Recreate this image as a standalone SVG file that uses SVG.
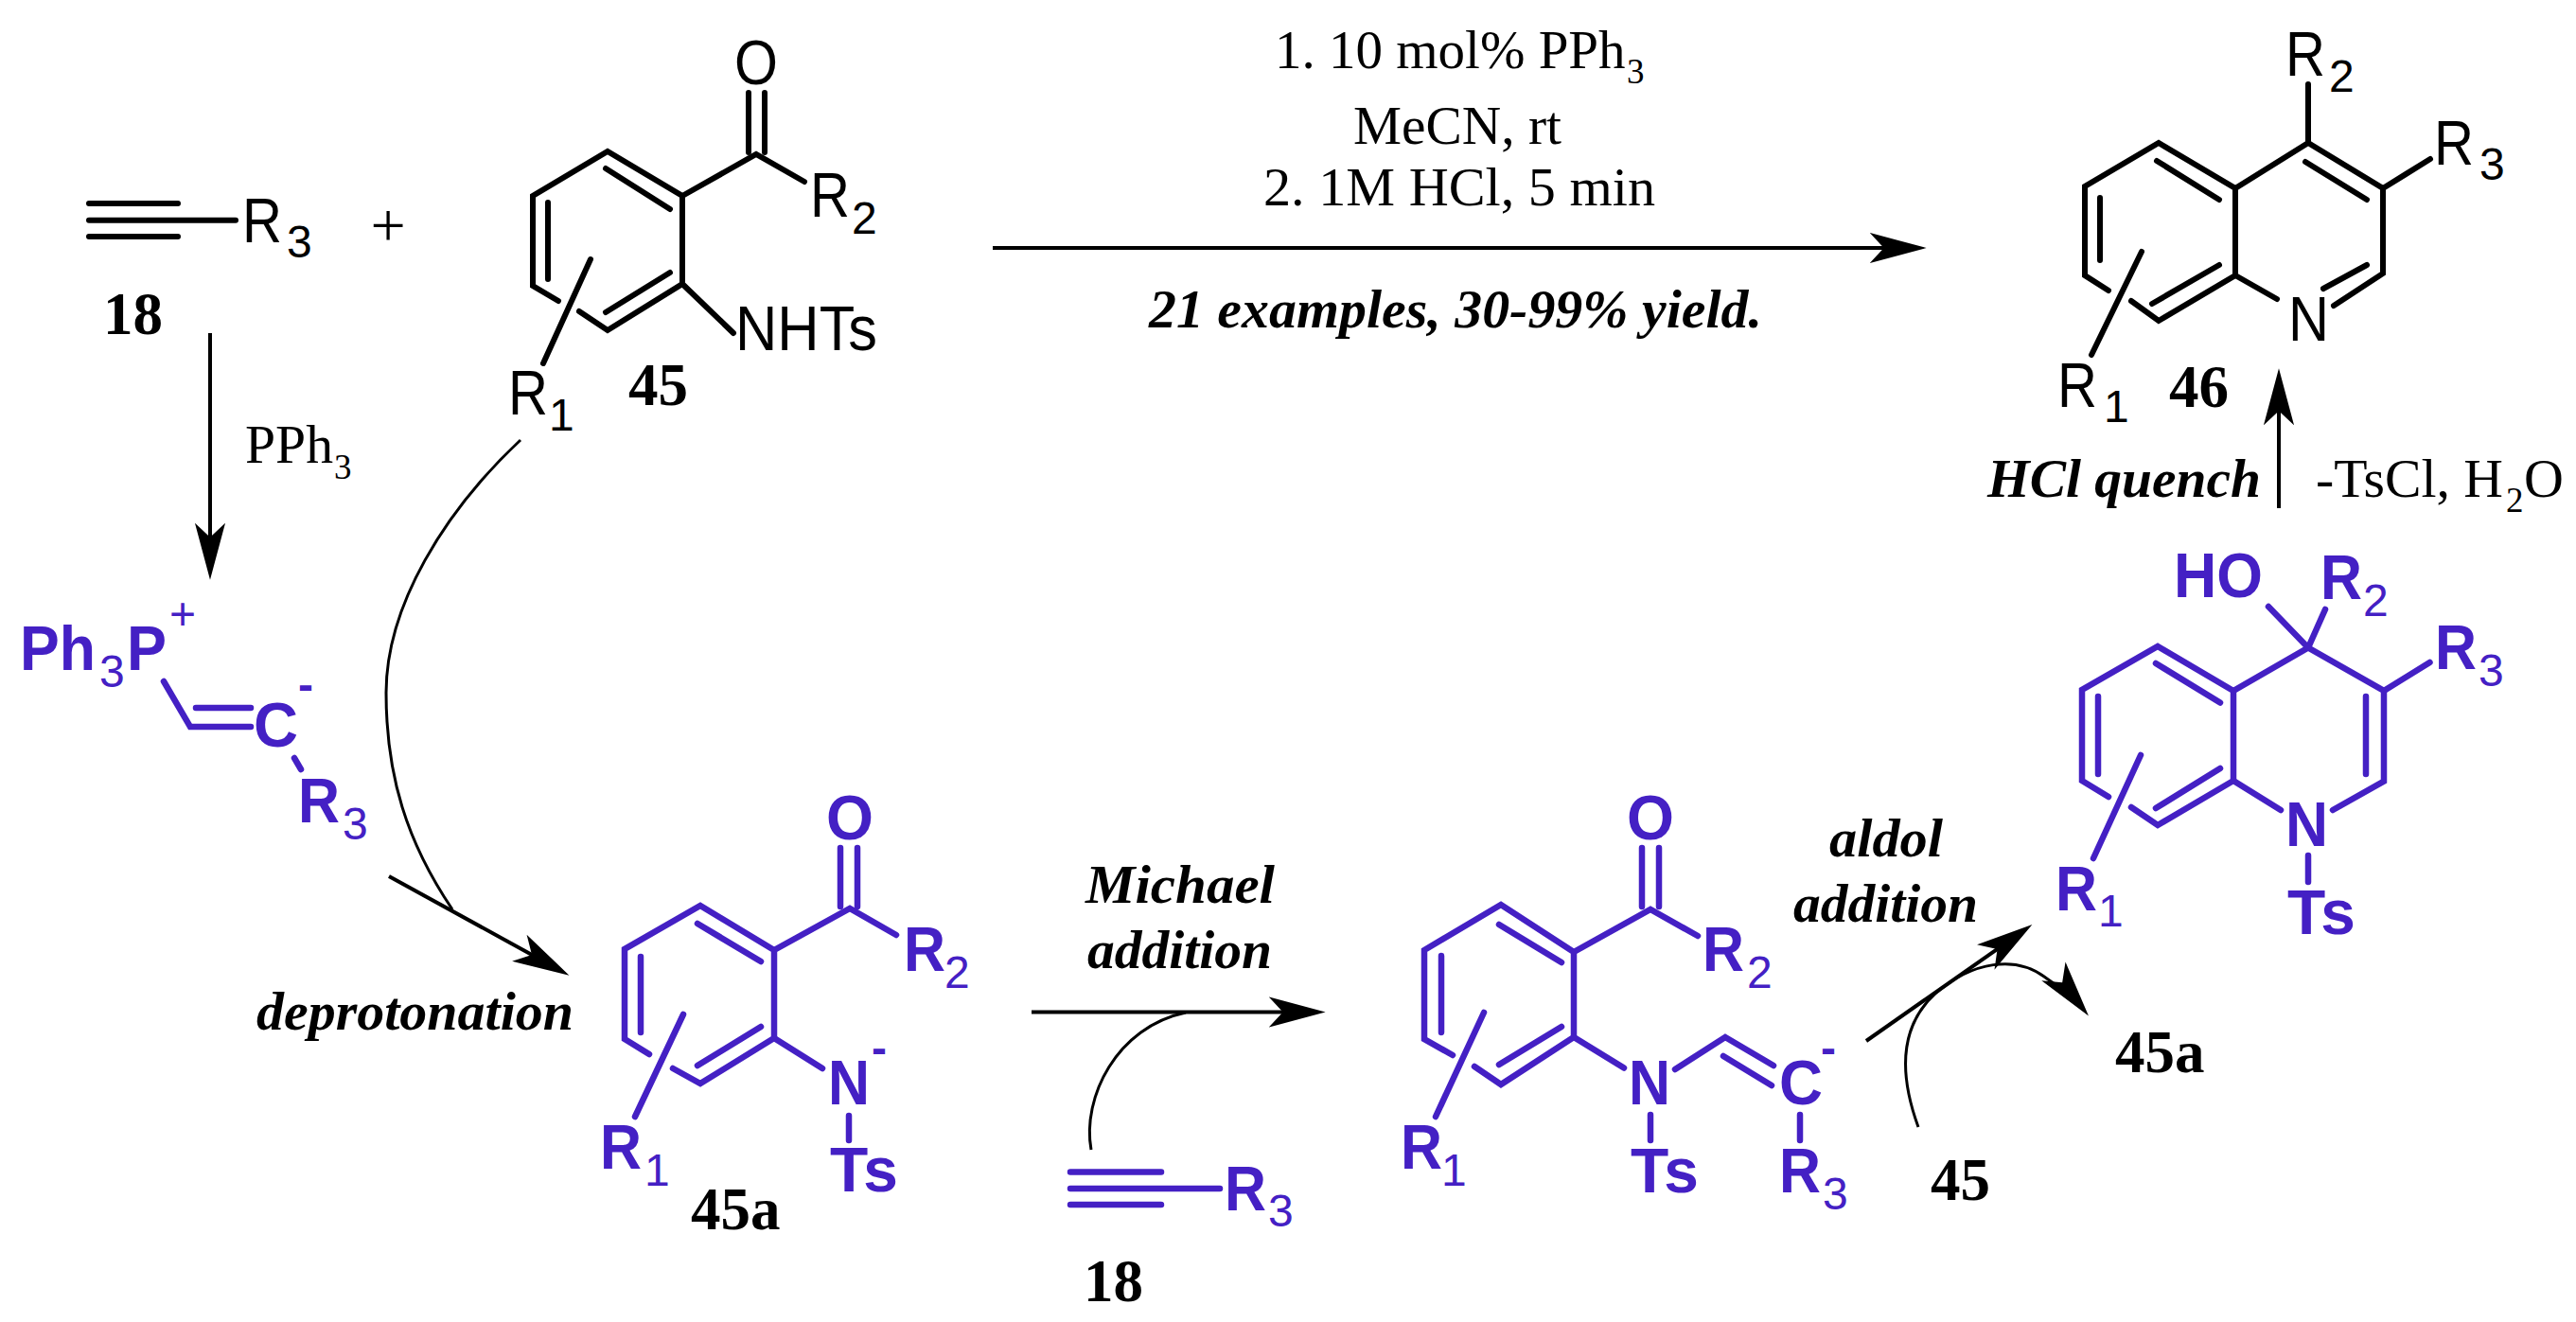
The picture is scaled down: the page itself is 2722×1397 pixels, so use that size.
<svg xmlns="http://www.w3.org/2000/svg" width="2722" height="1397" viewBox="0 0 2722 1397">
<style>
text{white-space:pre}
.bk path,.bk line{fill:none;stroke:#000;stroke-width:6;stroke-linecap:round;stroke-linejoin:miter}
.pu path,.pu line{fill:none;stroke:#4420c4;stroke-width:6.5;stroke-linecap:round;stroke-linejoin:miter}
.bk text{font-family:"Liberation Sans",Arial,sans-serif;font-size:66px;fill:#000}
.bk text.s{font-size:48px}
.pu text{font-family:"Liberation Sans",Arial,sans-serif;font-size:66px;font-weight:700;fill:#4420c4}
.pu text.s{font-size:48px;font-weight:400}
.pu text.m{font-size:48px;font-weight:700}
text.t{font-family:"Liberation Serif","Times New Roman",serif;font-size:58px;fill:#000}
text.ts{font-size:37px}
text.bi{font-weight:700;font-style:italic}
text.n{font-weight:700;font-size:63px}
.ar{fill:none;stroke:#000;stroke-width:4;stroke-linecap:butt}
.cv{fill:none;stroke:#000;stroke-width:3;stroke-linecap:butt}
.hd{fill:#000}
</style>
<defs>
<marker id="head" markerUnits="userSpaceOnUse" markerWidth="60" markerHeight="34" viewBox="0 0 56 30" refX="47" refY="15" orient="auto"><path class="hd" d="M0 0L56 15L0 30L14 15Z"/></marker>
</defs>
<rect width="2722" height="1397" fill="#fff"/>

<g id="connectors">
<path class="ar" marker-end="url(#head)" d="M1049 262H2026"/>
<path class="ar" marker-end="url(#head)" d="M222 352V603"/>
<path class="ar" marker-end="url(#head)" d="M411 926L593 1026"/>
<path class="ar" marker-end="url(#head)" d="M1090 1069.5H1391"/>
<path class="ar" marker-end="url(#head)" d="M1972 1100L2139.5 982.6"/>
<path class="ar" marker-end="url(#head)" d="M2408 537V399"/>
<path class="cv" d="M550 465C470 540 408 640 408 732C408 820 430 890 478 961"/>
<path class="cv" d="M1153 1215C1143 1160 1180 1085 1253 1070"/>
<path class="cv" marker-end="url(#head)" d="M2027 1191C2003 1125 2012 1080 2045 1050C2085 1015 2130 1010 2160 1032C2175 1043 2190 1052 2201 1066"/>
</g>

<g id="alkyne-18" class="bk">
<path d="M94 215H188M94 232.700H249M94 250H188"/>
<text x="256" y="256" textLength="42" lengthAdjust="spacingAndGlyphs">R</text>
<text class="s" x="303" y="272">3</text>
<text class="t n" x="109" y="353">18</text>
</g>
<g id="plus"><text class="t" x="410" y="260" text-anchor="middle" style="font-size:66px">+</text></g>

<g id="compound-45" class="bk">
<path d="M590 318L563 302V207L642 160L721 207V300L642 349L612 329"/>
<path d="M640 178L708 221M708 288L640 330M579 214V295M721 207L799 163L850 192M721 300L775 352"/>
<path d="M791 98V161M808 98V161M624 274L574 384"/>
<text x="776" y="89" textLength="46" lengthAdjust="spacingAndGlyphs">O</text>
<text x="856" y="229" textLength="42" lengthAdjust="spacingAndGlyphs">R</text>
<text class="s" x="900" y="247">2</text>
<text x="777" y="370" textLength="150" lengthAdjust="spacingAndGlyphs">NHTs</text>
<text x="537" y="438" textLength="42" lengthAdjust="spacingAndGlyphs">R</text>
<text class="s" x="580" y="455">1</text>
<text class="t n" x="664" y="428">45</text>
</g>

<g id="reagent-pph3">
<text class="t" x="259" y="489" textLength="93" lengthAdjust="spacingAndGlyphs">PPh</text>
<text class="t ts" x="353" y="506">3</text>
</g>

<g id="conditions">
<text class="t" x="1347" y="72" style="font-size:57px">1. 10 mol% PPh</text>
<text class="t ts" x="1719" y="88">3</text>
<text class="t" x="1430" y="152" textLength="220" lengthAdjust="spacingAndGlyphs">MeCN, rt</text>
<text class="t" x="1335" y="217" textLength="414" lengthAdjust="spacingAndGlyphs">2. 1M HCl, 5 min</text>
<text class="t bi" x="1214" y="346" textLength="648" lengthAdjust="spacingAndGlyphs">21 examples, 30-99% yield.</text>
</g>

<g id="quinoline-46" class="bk">
<path d="M2228 307L2203 291V197L2281 151L2362 199V291L2281 339L2252 318"/>
<path d="M2362 199L2439 151L2518 199V289L2466 323M2362 291L2406 316"/>
<path d="M2279 170L2345 211M2345 280L2274 321M2219 209V275M2436 171L2501 211M2455 305L2501 280"/>
<path d="M2439 151V89M2518 199L2568 168M2263 266L2210 375"/>
<text x="2415" y="80" textLength="42" lengthAdjust="spacingAndGlyphs">R</text>
<text class="s" x="2461" y="97">2</text>
<text x="2572" y="174" textLength="42" lengthAdjust="spacingAndGlyphs">R</text>
<text class="s" x="2620" y="190">3</text>
<text x="2418" y="360" textLength="43" lengthAdjust="spacingAndGlyphs">N</text>
<text x="2174" y="430" textLength="42" lengthAdjust="spacingAndGlyphs">R</text>
<text class="s" x="2223" y="446">1</text>
<text class="t n" x="2292" y="430">46</text>
</g>

<g id="step-labels">
<text class="t bi" x="2100" y="525" textLength="289" lengthAdjust="spacingAndGlyphs">HCl quench</text>
<text class="t" x="2447" y="525" textLength="198" lengthAdjust="spacingAndGlyphs">-TsCl, H</text>
<text class="t ts" x="2648" y="541">2</text>
<text class="t" x="2667" y="525">O</text>
<text class="t bi" x="271" y="1088" textLength="335" lengthAdjust="spacingAndGlyphs">deprotonation</text>
<text class="t bi" x="1147" y="954" textLength="200" lengthAdjust="spacingAndGlyphs">Michael</text>
<text class="t bi" x="1149" y="1023" textLength="195" lengthAdjust="spacingAndGlyphs">addition</text>
<text class="t bi" x="1933" y="905" textLength="120" lengthAdjust="spacingAndGlyphs">aldol</text>
<text class="t bi" x="1895" y="974" textLength="195" lengthAdjust="spacingAndGlyphs">addition</text>
</g>

<g id="ylide" class="pu">
<text x="21" y="708" textLength="80" lengthAdjust="spacingAndGlyphs">Ph</text>
<text class="s" x="105" y="726">3</text>
<text x="134" y="708" textLength="42" lengthAdjust="spacingAndGlyphs">P</text>
<text class="s" x="179" y="665">+</text>
<path d="M173 720L201 768H265M207 748H265M311 801L318 813"/>
<text x="268" y="789" textLength="47" lengthAdjust="spacingAndGlyphs">C</text>
<text class="m" x="315" y="740">-</text>
<text x="315" y="869" textLength="44" lengthAdjust="spacingAndGlyphs">R</text>
<text class="s" x="362" y="887">3</text>
</g>

<g id="compound-45a">
<g class="pu">
<path d="M686 1114L660 1098V1003L740 957L818 1004V1097L740 1145L711 1129"/>
<path d="M737 976L804 1016M804 1085L737 1126M677 1011V1091M818 1004L898 960L947 988M818 1097L869 1129"/>
<path d="M888 896V958M906 896V958M722 1072L671 1180M897 1179V1205"/>
<text x="873" y="887" textLength="50" lengthAdjust="spacingAndGlyphs">O</text>
<text x="955" y="1026" textLength="44" lengthAdjust="spacingAndGlyphs">R</text>
<text class="s" x="998" y="1044">2</text>
<text x="875" y="1167" textLength="44" lengthAdjust="spacingAndGlyphs">N</text>
<text class="m" x="921" y="1124">-</text>
<text x="877" y="1259" textLength="72" lengthAdjust="spacingAndGlyphs">Ts</text>
<text x="634" y="1235" textLength="44" lengthAdjust="spacingAndGlyphs">R</text>
<text class="s" x="681" y="1253">1</text>
</g>
<text class="t n" x="730" y="1299">45a</text>
</g>

<g id="alkyne-18b">
<g class="pu">
<path d="M1131 1238.500H1227M1131 1256H1289M1131 1273H1227"/>
<text x="1294" y="1279" textLength="44" lengthAdjust="spacingAndGlyphs">R</text>
<text class="s" x="1340" y="1296">3</text>
</g>
<text class="t n" x="1145" y="1375">18</text>
</g>

<g id="michael-adduct" class="pu">
<path d="M1535 1115L1505 1098V1004L1586 956L1663 1006V1096L1586 1146L1558 1127"/>
<path d="M1584 977L1650 1017M1650 1085L1584 1125M1523 1010V1091M1663 1006L1744 961L1794 989M1663 1096L1716 1128.500"/>
<path d="M1735 896V958M1753 896V958M1568 1070L1517 1180M1744 1178V1205M1770 1130L1823 1096L1874 1126M1821 1116L1872 1147M1902 1178V1205"/>
<text x="1719" y="887" textLength="50" lengthAdjust="spacingAndGlyphs">O</text>
<text x="1799" y="1026" textLength="44" lengthAdjust="spacingAndGlyphs">R</text>
<text class="s" x="1846" y="1044">2</text>
<text x="1721" y="1167" textLength="44" lengthAdjust="spacingAndGlyphs">N</text>
<text x="1723" y="1260" textLength="72" lengthAdjust="spacingAndGlyphs">Ts</text>
<text x="1880" y="1167" textLength="46" lengthAdjust="spacingAndGlyphs">C</text>
<text class="m" x="1924" y="1124">-</text>
<text x="1880" y="1260" textLength="44" lengthAdjust="spacingAndGlyphs">R</text>
<text class="s" x="1926" y="1278">3</text>
<text x="1480" y="1235" textLength="44" lengthAdjust="spacingAndGlyphs">R</text>
<text class="s" x="1523" y="1253">1</text>
</g>
<g id="label-45"><text class="t n" x="2040" y="1268">45</text></g>
<g id="label-45a"><text class="t n" x="2235" y="1133">45a</text></g>

<g id="hydroxy-intermediate" class="pu">
<path d="M2228 842L2200 825V729L2280 683L2360 730V825L2280 872L2252 853"/>
<path d="M2360 730L2439 684.500L2519 730V825.500L2465 856M2360 825L2410 856"/>
<path d="M2278 701L2346 742.500M2346 812L2278 854M2217 736V818M2500 736V818"/>
<path d="M2439 684.500L2397 641M2439 684.500L2457 644M2519 730L2567.500 700M2262 798L2212 907M2439 904V932"/>
<text x="2297" y="631" textLength="94" lengthAdjust="spacingAndGlyphs">HO</text>
<text x="2452" y="633" textLength="44" lengthAdjust="spacingAndGlyphs">R</text>
<text class="s" x="2497" y="651">2</text>
<text x="2573" y="707" textLength="44" lengthAdjust="spacingAndGlyphs">R</text>
<text class="s" x="2619" y="725">3</text>
<text x="2415" y="894" textLength="45" lengthAdjust="spacingAndGlyphs">N</text>
<text x="2417" y="987" textLength="72" lengthAdjust="spacingAndGlyphs">Ts</text>
<text x="2172" y="962" textLength="44" lengthAdjust="spacingAndGlyphs">R</text>
<text class="s" x="2217" y="979">1</text>
</g>
</svg>
